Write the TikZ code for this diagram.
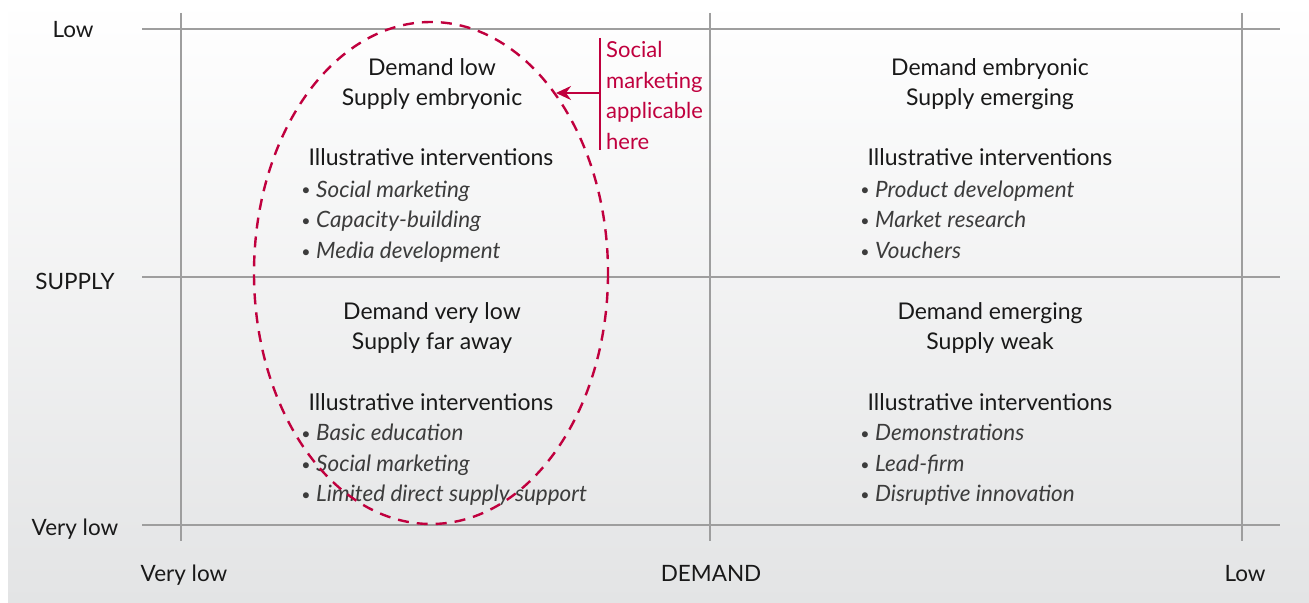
\documentclass[tikz,border=0pt]{standalone}
\usepackage{fontspec}
\setmainfont{Lato}
\usetikzlibrary{arrows.meta}
\definecolor{crim}{RGB}{192,0,62}
\definecolor{gridc}{RGB}{158,158,158}
\definecolor{txt}{RGB}{25,25,25}
\definecolor{itx}{RGB}{60,60,60}
\definecolor{bgbot}{RGB}{227,228,229}
\tikzset{
  lbl/.style={font=\fontsize{22.5bp}{26bp}\selectfont, text=txt, inner sep=0pt, anchor=base},
  head/.style={font=\fontsize{23bp}{26bp}\selectfont, text=txt, inner sep=0pt, anchor=base},
  item/.style={font=\fontsize{22.5bp}{26bp}\selectfont\itshape, text=itx, inner sep=0pt, anchor=base west},
  bul/.style={font=\fontsize{16bp}{20bp}\selectfont, text=itx, inner sep=0pt, anchor=base},
  callout/.style={font=\fontsize{22bp}{26bp}\selectfont, text=crim, inner sep=0pt, anchor=base west},
  gridline/.style={draw=gridc, line width=1.1bp},
}
\begin{document}
\begin{tikzpicture}[x=1bp,y=-1bp]
\useasboundingbox (0,0) rectangle (1309,603);
\shade[top color=white, bottom color=bgbot] (8,0) rectangle (1309,603);
% grid
\draw[gridline] (142,29) -- (1280,29);
\draw[gridline] (142,277) -- (1280,277);
\draw[gridline] (142,525) -- (1280,525);
\draw[gridline] (181,13) -- (181,541);
\draw[gridline] (710,13) -- (710,541);
\draw[gridline] (1242,13) -- (1242,541);
% axis labels
\node[lbl] (ylow) at (73,38) {Low};
\node[lbl] (ysup) at (75,289) {SUPPLY};
\node[lbl] (yvl) at (75,535) {Very low};
\node[lbl] (xvl) at (184,581) {Very low};
\node[lbl] (xdem) at (711,581) {DEMAND};
\node[lbl] (xlow) at (1245,581) {Low};
% top-left quadrant
\node[head] (tl1) at (432,76) {Demand low};
\node[head] (tl2) at (432,106) {Supply embryonic};
\node[head] (tl3) at (431,166) {Illustrative interventions};
\foreach \i/\y/\t in {a/197/Social marketing, b/227/Capacity-building, c/258/Media development}{
  \node[bul] (tlb\i) at (306,\y-1) {\textbullet};
  \node[item] (tli\i) at (316,\y) {\t};
}
% bottom-left quadrant
\node[head] (bl1) at (432,319) {Demand very low};
\node[head] (bl2) at (432,349) {Supply far away};
\node[head] (bl3) at (431,410) {Illustrative interventions};
\foreach \i/\y/\t in {a/440/Basic education, b/471/Social marketing, c/501/Limited direct supply support}{
  \node[bul] (blb\i) at (306,\y-1) {\textbullet};
  \node[item] (bli\i) at (316,\y) {\t};
}
% top-right quadrant
\node[head] (tr1) at (990,76) {Demand embryonic};
\node[head] (tr2) at (990,106) {Supply emerging};
\node[head] (tr3) at (990,166) {Illustrative interventions};
\foreach \i/\y/\t in {a/197/Product development, b/227/Market research, c/258/Vouchers}{
  \node[bul] (trb\i) at (865,\y-1) {\textbullet};
  \node[item] (tri\i) at (875,\y) {\t};
}
% bottom-right quadrant
\node[head] (br1) at (990,319) {Demand emerging};
\node[head] (br2) at (990,349) {Supply weak};
\node[head] (br3) at (990,410) {Illustrative interventions};
\foreach \i/\y/\t in {a/440/Demonstrations, b/471/Lead-firm, c/501/Disruptive innovation}{
  \node[bul] (brb\i) at (865,\y-1) {\textbullet};
  \node[item] (bri\i) at (875,\y) {\t};
}
% ellipse
\draw[crim, line width=2.4bp, dash pattern=on 11bp off 8bp] (431,273) ellipse [x radius=177, y radius=251];
% callout
\coordinate (ct) at (600,38);
\coordinate (cb) at (600,150);
\coordinate (cm) at (600,93);
\coordinate (ce) at (556,93);
\draw[crim, line width=2.4bp] (ct) -- (cb);
\draw[crim, line width=2.4bp, -{Stealth[length=15bp,width=14bp,inset=5bp]}] (cm) -- (ce);
\node[callout] (c1) at (606,58) {Social};
\node[callout] (c2) at (606,89) {marketing};
\node[callout] (c3) at (606,119) {applicable};
\node[callout] (c4) at (606,150) {here};
\end{tikzpicture}
\end{document}
